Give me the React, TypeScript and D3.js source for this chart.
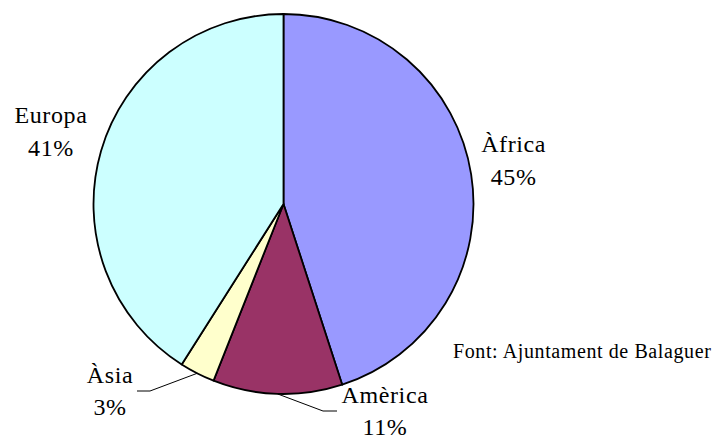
import React from "react";
import * as d3 from "d3";

const categories = ["Àfrica", "Amèrica", "Àsia", "Europa"];
const values = [45, 11, 3, 41];
const colors = ["#9999FF", "#993366", "#FFFFCC", "#CCFFFF"];
const sourceNote = "Font: Ajuntament de Balaguer";

const W = 715;
const H = 437;
const cx = 283.5;
const cy = 204;
const R = 190;

// label layout: either placed along the mid angle (radius) or with a leader line
const labelLayout = [
  { type: "radial", rad: 232, dx: 1, dy: -1 },
  { type: "leader", elbow: [323, 411], end: [337, 411], text: [385, 403] },
  { type: "leader", elbow: [150, 391], end: [137, 391], text: [110, 383] },
  { type: "radial", rad: 238, dx: -4, dy: 0 },
];

const FONT = "Liberation Serif";

export default function App() {
  const pie = d3
    .pie<number>()
    .sort(null)
    .value((d) => d)
    .startAngle(0)
    .endAngle(2 * Math.PI);
  const arcs = pie(values);
  const arc = d3.arc<d3.PieArcDatum<number>>().innerRadius(0).outerRadius(R);
  const total = d3.sum(values);
  const fmt = (v: number) => `${Math.round((v / total) * 100)}%`;

  const Label = ({ x, y, children }: { x: number; y: number; children: React.ReactNode }) => (
    <text x={x} y={y} textAnchor="middle" fill="#000" fontFamily={FONT} fontSize={24} letterSpacing={0.6}>
      {children}
    </text>
  );

  return (
    <svg width={W} height={H} style={{ position: "absolute", left: 0, top: 0 }}>
      <rect width={W} height={H} fill="#fff" />
      <g transform={`translate(${cx},${cy})`}>
        {arcs.map((a, i) => (
          <path key={i} d={arc(a) || ""} fill={colors[i]} stroke="#000" strokeWidth={1.8} strokeLinejoin="round" />
        ))}
      </g>
      {arcs.map((a, i) => {
        const mid = (a.startAngle + a.endAngle) / 2;
        const L = labelLayout[i];
        if (L.type === "radial") {
          const x = cx + L.rad * Math.sin(mid) + L.dx;
          const y = cy - L.rad * Math.cos(mid) + L.dy;
          return (
            <g key={i}>
              <Label x={x} y={y - 15}>{categories[i]}</Label>
              <Label x={x} y={y + 18}>{fmt(values[i])}</Label>
            </g>
          );
        }
        const sx = cx + R * Math.sin(mid);
        const sy = cy - R * Math.cos(mid);
        const [ex, ey] = L.elbow!;
        const [fx, fy] = L.end!;
        const [tx, ty] = L.text!;
        return (
          <g key={i}>
            <polyline points={`${sx},${sy} ${ex},${ey} ${fx},${fy}`} fill="none" stroke="#000" strokeWidth={1} />
            <Label x={tx} y={ty}>{categories[i]}</Label>
            <Label x={tx} y={ty + 32}>{fmt(values[i])}</Label>
          </g>
        );
      })}
      <text x={453} y={358} fill="#000" fontFamily={FONT} fontSize={20} letterSpacing={0.6}>
        {sourceNote}
      </text>
    </svg>
  );
}
